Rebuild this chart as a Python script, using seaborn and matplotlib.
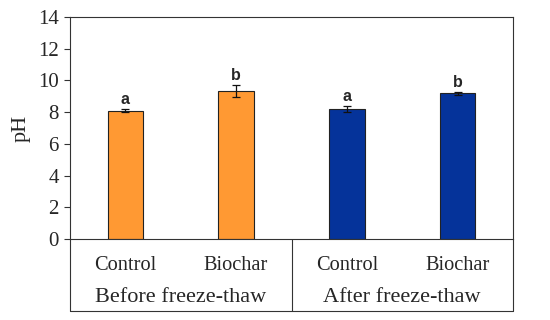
import pandas as pd
import seaborn as sns
from matplotlib import pyplot as plt
import matplotlib.transforms as mtransforms

# data
groups = ['Before freeze-thaw', 'Before freeze-thaw', 'After freeze-thaw', 'After freeze-thaw']
treatments = ['Control', 'Biochar', 'Control', 'Biochar']
ph_mean = [8.1, 9.35, 8.2, 9.2]
ph_err = [0.08, 0.38, 0.17, 0.1]
letters = ['a', 'b', 'a', 'b']
group_names = ['Before freeze-thaw', 'After freeze-thaw']

df = pd.DataFrame({'group': groups, 'treatment': treatments, 'pH': ph_mean})
df['key'] = df['group'] + ' / ' + df['treatment']

sns.set_theme(style='white')
plt.rcParams['font.family'] = ['Liberation Serif', 'DejaVu Serif']

fig = plt.figure(figsize=(5.5, 3.2), dpi=100)
ax = fig.add_axes([70 / 550, 81 / 320, 443 / 550, 222 / 320])

sns.barplot(data=df, x='key', y='pH', hue='group', hue_order=group_names,
            palette=['#FF9933', '#05339A'], saturation=1, width=0.32, dodge=False,
            edgecolor='#222222', linewidth=0.8, errorbar=None, legend=False, ax=ax)

bars = sorted(ax.patches, key=lambda p: p.get_x())
bars = [p for p in bars if p.get_height() > 0]
xs = [p.get_x() + p.get_width() / 2 for p in bars]
ax.errorbar(xs, ph_mean, yerr=ph_err, fmt='none', ecolor='#111111',
            elinewidth=0.9, capsize=3, capthick=0.9)
for x, m, e, l in zip(xs, ph_mean, ph_err, letters):
    ax.text(x, m + e + 0.12, l, ha='center', va='bottom', fontsize=11.5,
            fontweight='bold', family=['Liberation Sans', 'DejaVu Sans'])

ax.set_ylim(0, 14)
ax.set_yticks(range(0, 15, 2))
ax.set_xlim(-0.5, 3.5)
ax.set_xticks(range(len(treatments)))
ax.set_xticklabels(treatments, fontsize=14.7)
ax.tick_params(axis='x', length=0, pad=12)
ax.tick_params(axis='y', left=True, length=4, width=0.8, labelsize=15, pad=4, color='#333333')
ax.set_xlabel('')
ax.set_ylabel('pH', fontsize=16, labelpad=5)
for s in ax.spines.values():
    s.set_color('#333333')
    s.set_linewidth(0.8)

# lower category box
trans = mtransforms.blended_transform_factory(ax.transData, ax.transAxes)
box_bottom = -0.324
for xv in [-0.5, 1.5, 3.5]:
    ax.plot([xv, xv], [0, box_bottom], transform=trans, color='#333333', lw=0.8, clip_on=False)
ax.plot([-0.5, 3.5], [box_bottom, box_bottom], transform=trans, color='#333333', lw=0.8, clip_on=False)
for i, g in enumerate(group_names):
    ax.text(0.5 + 2 * i, -0.262, g, transform=trans, ha='center', va='center', fontsize=16)

fig.savefig('out.png', dpi=100)
